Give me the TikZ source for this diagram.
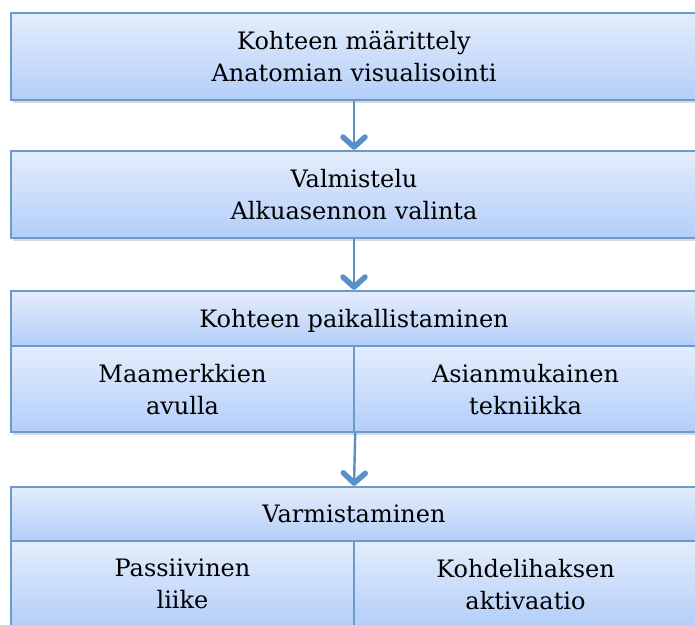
\documentclass[tikz,border=0pt]{standalone}
\usepackage{fontspec}
\setmainfont{DejaVu Serif}
\usetikzlibrary{arrows.meta,shadows}
\definecolor{bord}{HTML}{6A9BCB}
\definecolor{topc}{HTML}{E4EDFC}
\definecolor{botc}{HTML}{B3CEF9}
\definecolor{arr}{HTML}{5B8FC7}
\tikzset{
 box/.style={draw=bord, line width=2.4pt, top color=topc, bottom color=botc, inner sep=0pt, align=center,
   font=\fontsize{24}{32}\selectfont, text depth=-6pt,
   drop shadow={opacity=0.3, shadow xshift=2pt, shadow yshift=-3pt}},
 flow/.style={draw=arr, line width=2.4pt, -{Straight Barb[length=10pt, width=22pt, line width=5.5pt, round]}}
}
\begin{document}
\begin{tikzpicture}[x=1pt,y=-1pt]
\useasboundingbox (0,0) rectangle (695,624);
\clip (0,0) rectangle (695,624);
\node[box, minimum width=686pt, minimum height=87pt] (b1) at (354,56.5) {Kohteen määrittely\\Anatomian visualisointi};
\node[box, minimum width=686pt, minimum height=87pt] (b2) at (354,194.5) {Valmistelu\\Alkuasennon valinta};
\node[box, minimum width=686pt, minimum height=55pt] (b3) at (354,318.5) {Kohteen paikallistaminen};
\node[box, minimum width=343pt, minimum height=86pt] (b3l) at (182.5,389) {Maamerkkien\\avulla};
\node[box, minimum width=343pt, minimum height=86pt] (b3r) at (525.5,389) {Asianmukainen\\tekniikka};
\node[box, minimum width=686pt, minimum height=54pt] (b4) at (354,514) {Varmistaminen};
\node[box, minimum width=343pt, minimum height=86pt] (b4l) at (182.5,584) {Passiivinen\\liike};
\node[box, minimum width=343pt, minimum height=86pt] (b4r) at (525.5,584) {Kohdelihaksen\\aktivaatio};
\draw[flow] (b1.south) -- (b2.north);
\draw[flow] (b2.south) -- (b3.north);
\draw[flow] (b3l.south east) -- (b4.north);
\end{tikzpicture}
\end{document}
